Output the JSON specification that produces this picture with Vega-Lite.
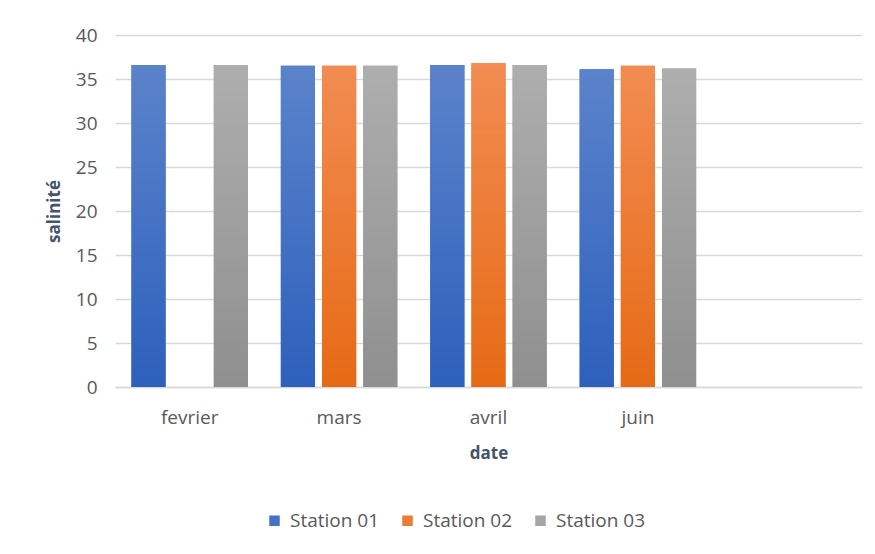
{
  "$schema": "https://vega.github.io/schema/vega-lite/v6.json",
  "autosize": "none",
  "padding": {"left": 115, "top": 35, "right": 13, "bottom": 167},
  "width": 747,
  "height": 352,
  "background": "white",
  "data": {
    "values": [
      {"date": "fevrier", "station": "Station 01", "salinite": 36.6},
      {"date": "fevrier", "station": "Station 03", "salinite": 36.6},
      {"date": "mars", "station": "Station 01", "salinite": 36.5},
      {"date": "mars", "station": "Station 02", "salinite": 36.5},
      {"date": "mars", "station": "Station 03", "salinite": 36.5},
      {"date": "avril", "station": "Station 01", "salinite": 36.6},
      {"date": "avril", "station": "Station 02", "salinite": 36.8},
      {"date": "avril", "station": "Station 03", "salinite": 36.6},
      {"date": "juin", "station": "Station 01", "salinite": 36.1},
      {"date": "juin", "station": "Station 02", "salinite": 36.5},
      {"date": "juin", "station": "Station 03", "salinite": 36.2}
    ]
  },
  "encoding": {
    "x": {
      "field": "date",
      "type": "nominal",
      "sort": null,
      "scale": {"domain": ["fevrier", "mars", "avril", "juin", " "], "paddingInner": 0.22, "paddingOuter": 0.11},
      "axis": {
        "title": "date",
        "labelAngle": 0,
        "labelPadding": 21,
        "titlePadding": 18,
        "ticks": false,
        "domainColor": "#D9D9D9",
        "domainWidth": 1.5
      }
    },
    "xOffset": {
      "field": "station",
      "type": "nominal",
      "scale": {"domain": ["Station 01", "Station 02", "Station 03"], "paddingInner": 0.17, "paddingOuter": 0}
    },
    "y": {
      "field": "salinite",
      "type": "quantitative",
      "scale": {"domain": [0, 40]},
      "axis": {
        "title": "salinité",
        "values": [0, 5, 10, 15, 20, 25, 30, 35, 40],
        "ticks": false,
        "domain": false,
        "labelPadding": 18,
        "titlePadding": 12,
        "gridColor": "#D9D9D9",
        "gridWidth": 1.5
      }
    }
  },
  "layer": [
    {
      "mark": {"type": "bar"},
      "encoding": {
        "color": {
          "field": "station",
          "type": "nominal",
          "scale": {"domain": ["Station 01", "Station 02", "Station 03"], "range": ["#4472C4", "#ED7D31", "#A5A5A5"]},
          "legend": {
            "title": null,
            "orient": "none",
            "direction": "horizontal",
            "legendX": 150,
            "legendY": 476,
            "symbolType": "square",
            "symbolSize": 110,
            "symbolStrokeWidth": 0,
            "columnPadding": 18,
            "labelFontSize": 19,
            "labelColor": "#595959",
            "labelFont": "Open Sans",
            "labelOffset": 6
          }
        }
      }
    },
    {
      "transform": [{"filter": "datum.station === 'Station 01'"}],
      "mark": {
        "type": "bar",
        "color": {
          "gradient": "linear", "x1": 0, "y1": 0, "x2": 0, "y2": 1,
          "stops": [{"offset": 0, "color": "#5B83CB"}, {"offset": 1, "color": "#2D60BC"}]
        }
      }
    },
    {
      "transform": [{"filter": "datum.station === 'Station 02'"}],
      "mark": {
        "type": "bar",
        "color": {
          "gradient": "linear", "x1": 0, "y1": 0, "x2": 0, "y2": 1,
          "stops": [{"offset": 0, "color": "#F28C52"}, {"offset": 1, "color": "#E66A15"}]
        }
      }
    },
    {
      "transform": [{"filter": "datum.station === 'Station 03'"}],
      "mark": {
        "type": "bar",
        "color": {
          "gradient": "linear", "x1": 0, "y1": 0, "x2": 0, "y2": 1,
          "stops": [{"offset": 0, "color": "#AEAEAE"}, {"offset": 1, "color": "#8F8F8F"}]
        }
      }
    }
  ],
  "config": {
    "view": {"stroke": null},
    "axis": {
      "labelFont": "Open Sans",
      "labelFontSize": 19,
      "labelColor": "#595959",
      "titleFont": "Open Sans",
      "titleFontSize": 17,
      "titleFontWeight": "bold",
      "titleColor": "#44546A"
    }
  }
}
